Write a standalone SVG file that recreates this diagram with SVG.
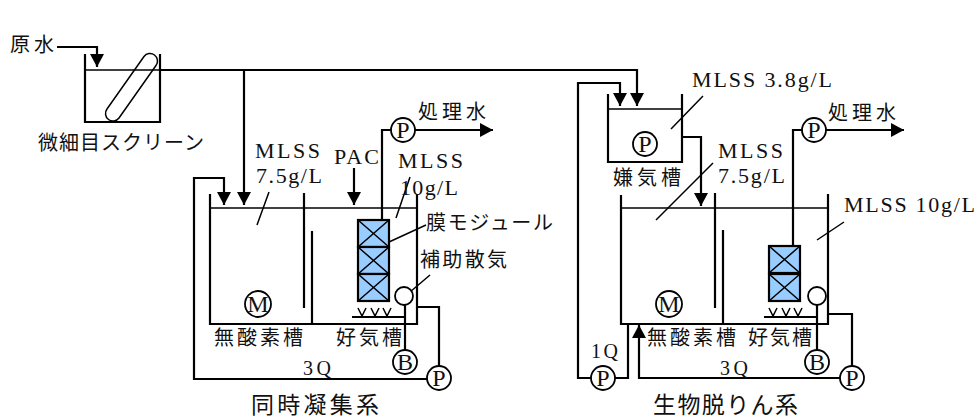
<svg xmlns="http://www.w3.org/2000/svg" width="978" height="419" viewBox="0 0 978 419">
<style>
.l{fill:none;stroke:#000;stroke-width:2.2}
.t{fill:none;stroke:#000;stroke-width:1.5}
.c{fill:#fff;stroke:#000;stroke-width:1.8}
.m{fill:#99ccff;stroke:#000;stroke-width:2.2}
.j{font-family:"Noto Sans CJK JP","Noto Sans",sans-serif;font-size:20px;fill:#111}
.e{font-family:"Liberation Serif",serif;font-size:22px;fill:#111}
.q{font-family:"Liberation Serif",serif;font-size:20px;fill:#111}
.s{font-family:"Liberation Serif",serif;font-size:24px;fill:#111;text-anchor:middle}
.h{font-family:"Noto Sans CJK JP","Noto Sans",sans-serif;font-size:23px;fill:#111}
</style>
<defs>
<marker id="a" markerUnits="userSpaceOnUse" markerWidth="14" markerHeight="14" refX="13" refY="7" orient="auto"><path d="M0 0L13 7L0 14Z" fill="#000"/></marker>
<g id="xbox"><rect class="m" width="31" height="27"/><path class="t" d="M0 0L31 27M31 0L0 27"/></g>
<g id="vvv"><path class="t" d="M-4 0L0 8L4 0M9 0L13 8L17 0M21 0L25 8L29 0"/></g>
</defs>

<g id="connectors">
<path class="l" d="M57 47H97V67" marker-end="url(#a)"/>
<path class="l" d="M160 70H637V106" marker-end="url(#a)"/>
<path class="l" d="M244 70V205" marker-end="url(#a)"/>
<path class="l" d="M427 379H194V178H224V205" marker-end="url(#a)"/>
<path class="l" d="M354 168V205" marker-end="url(#a)"/>
<path class="l" d="M382 220V130H403"/>
<path class="l" d="M403 130H493" marker-end="url(#a)"/>
<path class="l" d="M405 305V362"/>
<path class="l" d="M417 307H439V378"/>
<path class="t" d="M269 192L257 225M410 177L396 218M426 225L389 242M430 275L410 292"/>
<path class="l" d="M591 378H578V83H620V106" marker-end="url(#a)"/>
<path class="l" d="M615 378H628V324"/>
<path class="l" d="M682 137H701V206" marker-end="url(#a)"/>
<path class="l" d="M840 378H639V325" marker-end="url(#a)"/>
<path class="l" d="M793 246V130H814"/>
<path class="l" d="M814 130H904" marker-end="url(#a)"/>
<path class="l" d="M817 305V362"/>
<path class="l" d="M828 314H852V378"/>
<path class="t" d="M703 96L671 129M713 163L656 220M844 222L817 240"/>
</g>

<g id="screen-tank">
<path class="l" d="M85 54V122H160V54"/>
<path class="t" d="M85 70H160"/>
<path class="t" d="M144 56.500L107 109A7.500 7.500 0 0 0 119 118L156 65.500A7.500 7.500 0 0 0 144 56.500Z"/>
<text class="j" x="10" y="52" textLength="44" lengthAdjust="spacing">原水</text>
<text class="j" x="38" y="150" textLength="166" lengthAdjust="spacing">微細目スクリーン</text>
</g>

<g id="tank-left">
<path class="l" d="M210 194V324H417V194"/>
<path class="t" d="M210 208H417"/>
<path class="l" d="M304 193V308M312 231V324"/>
<text class="e" x="255" y="158" textLength="65" lengthAdjust="spacing">MLSS</text>
<text class="e" x="256" y="183" textLength="66" lengthAdjust="spacing">7.5g/L</text>
<text class="e" x="334" y="164" textLength="45" lengthAdjust="spacing">PAC</text>
<text class="e" x="398" y="168" textLength="65" lengthAdjust="spacing">MLSS</text>
<text class="e" x="400" y="195" textLength="58" lengthAdjust="spacing">10g/L</text>
<text class="j" x="214" y="345" textLength="89" lengthAdjust="spacing">無酸素槽</text>
<text class="j" x="336" y="345" textLength="66" lengthAdjust="spacing">好気槽</text>
<text class="q" x="303" y="375" textLength="28" lengthAdjust="spacing">3Q</text>
<text class="h" x="251" y="413" textLength="128" lengthAdjust="spacing">同時凝集系</text>
</g>

<g id="module-left">
<use href="#xbox" x="358" y="220"/>
<use href="#xbox" x="358" y="247"/>
<use href="#xbox" x="358" y="274" />
<text class="j" x="426" y="230" textLength="127" lengthAdjust="spacing">膜モジュール</text>
</g>

<g id="diffuser-left">
<path class="l" d="M352 317H405"/>
<use href="#vvv" x="362" y="308"/>
<circle class="c" cx="404" cy="296" r="9"/>
<text class="j" x="420" y="267" textLength="87" lengthAdjust="spacing">補助散気</text>
</g>

<g id="pump-left-out"><circle class="c" cx="403" cy="130" r="12"/><text class="s" x="403" y="138">P</text>
<text class="j" x="418" y="119" textLength="68" lengthAdjust="spacing">処理水</text></g>
<g id="mixer-left"><circle class="c" cx="258" cy="304" r="13"/><text class="s" x="258" y="312">M</text></g>
<g id="blower-left"><circle class="c" cx="405" cy="362" r="12"/><text class="s" x="405" y="370">B</text></g>
<g id="pump-left-return"><circle class="c" cx="439" cy="378" r="12"/><text class="s" x="439" y="386">P</text></g>

<g id="anaerobic-tank">
<path class="l" d="M608 94V162H682V94"/>
<path class="t" d="M608 109H682"/>
<circle class="c" cx="645" cy="144" r="12"/><text class="s" x="645" y="152">P</text>
<text class="e" x="692" y="87" textLength="140" lengthAdjust="spacing">MLSS 3.8g/L</text>
<text class="j" x="613" y="185" textLength="68" lengthAdjust="spacing">嫌気槽</text>
</g>

<g id="tank-right">
<path class="l" d="M621 195V324H828V194"/>
<path class="t" d="M621 208H828"/>
<path class="l" d="M715 193V308M723 230V324"/>
<text class="e" x="718" y="158" textLength="65" lengthAdjust="spacing">MLSS</text>
<text class="e" x="718" y="183" textLength="67" lengthAdjust="spacing">7.5g/L</text>
<text class="e" x="844" y="212" textLength="131" lengthAdjust="spacing">MLSS 10g/L</text>
<text class="j" x="647" y="345" textLength="89" lengthAdjust="spacing">無酸素槽</text>
<text class="j" x="748" y="345" textLength="64" lengthAdjust="spacing">好気槽</text>
<text class="q" x="591" y="358" textLength="27" lengthAdjust="spacing">1Q</text>
<text class="q" x="720" y="375" textLength="28" lengthAdjust="spacing">3Q</text>
<text class="h" x="653" y="413" textLength="145" lengthAdjust="spacing">生物脱りん系</text>
</g>

<g id="module-right">
<use href="#xbox" x="769" y="246"/>
<use href="#xbox" x="769" y="274"/>
</g>

<g id="diffuser-right">
<path class="l" d="M764 317H817"/>
<use href="#vvv" x="773" y="308"/>
<circle class="c" cx="817" cy="296" r="9"/>
</g>

<g id="pump-right-out"><circle class="c" cx="814" cy="130" r="12"/><text class="s" x="814" y="138">P</text>
<text class="j" x="828" y="120" textLength="68" lengthAdjust="spacing">処理水</text></g>
<g id="mixer-right"><circle class="c" cx="669" cy="304" r="13"/><text class="s" x="669" y="312">M</text></g>
<g id="blower-right"><circle class="c" cx="817" cy="362" r="12"/><text class="s" x="817" y="370">B</text></g>
<g id="pump-right-return"><circle class="c" cx="852" cy="378" r="12"/><text class="s" x="852" y="386">P</text></g>
<g id="pump-right-1q"><circle class="c" cx="603" cy="378" r="12"/><text class="s" x="603" y="386">P</text></g>
</svg>
